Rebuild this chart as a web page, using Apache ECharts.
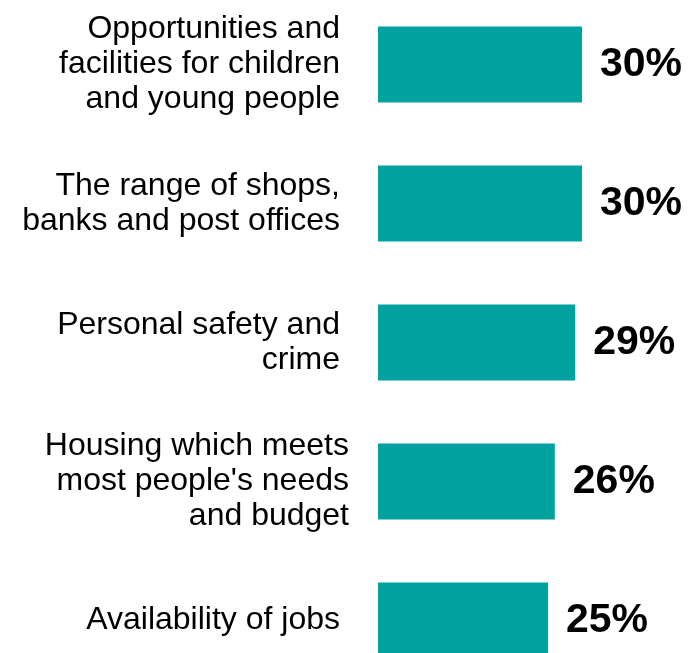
<!DOCTYPE html>
<html>
<head>
<meta charset="utf-8">
<script src="https://cdn.jsdelivr.net/npm/echarts@6/dist/echarts.min.js"></script>
<style>
  html, body { margin: 0; padding: 0; background: #fff; overflow: hidden; }
  /* the last bar runs past the bottom edge of the page */
  #chart { position: absolute; left: 0; top: -5px; width: 690px; height: 695px; }
</style>
</head>
<body>
<div id="chart"></div>
<script>
// Category labels (line breaks as displayed) and percentage values
const categories = [
  'Opportunities and\nfacilities for children\nand young people',
  'The range of shops,\nbanks and post offices',
  'Personal safety and\ncrime',
  'Housing which meets\nmost people\'s needs\nand budget',
  'Availability of jobs'
];
const values = [30, 30, 29, 26, 25];

const chart = echarts.init(document.getElementById('chart'), null, { renderer: 'canvas' });

// The housing label sits a little further right than the others
const categoryData = categories.map(function (c, i) {
  return {
    value: c,
    textStyle: { padding: i === 3 ? [0, 0, 0, 0] : [0, 9, 0, 0] }
  };
});

chart.setOption({
  animation: false,
  backgroundColor: '#ffffff',
  grid: { left: 378, top: 0, width: 272, height: 695, containLabel: false },
  xAxis: {
    type: 'value',
    min: 0,
    max: 40,
    show: false
  },
  yAxis: {
    type: 'category',
    inverse: true,
    data: categoryData,
    axisLine: { show: false },
    axisTick: { show: false },
    splitLine: { show: false },
    axisLabel: {
      margin: 29,
      color: '#000000',
      fontFamily: 'Liberation Sans, Arial, sans-serif',
      fontSize: 32,
      lineHeight: 35,
      align: 'right'
    }
  },
  series: [{
    type: 'bar',
    data: values,
    barWidth: 76,
    itemStyle: { color: '#00A19E' },
    label: {
      show: true,
      position: 'right',
      distance: 18,
      formatter: '{c}%',
      color: '#000000',
      fontFamily: 'Liberation Sans, Arial, sans-serif',
      fontWeight: 'bold',
      fontSize: 41
    }
  }]
});
</script>
</body>
</html>
